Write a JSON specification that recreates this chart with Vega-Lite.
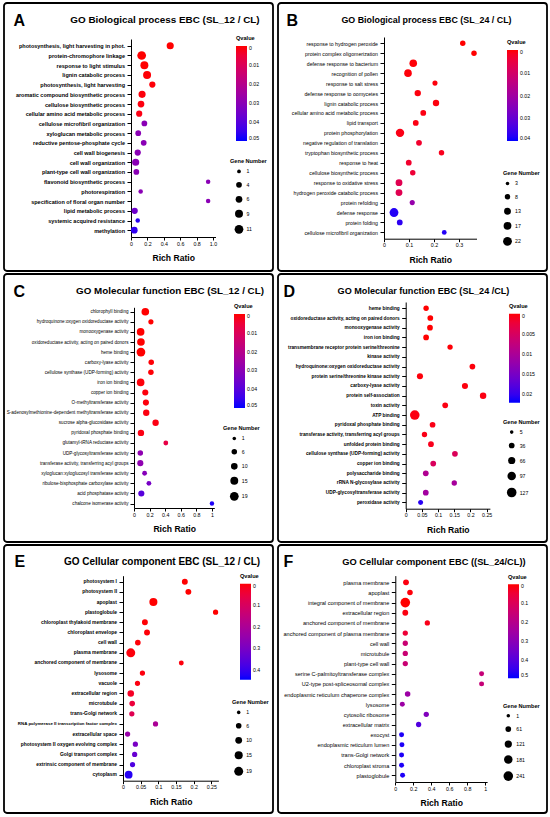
{
"$schema": "https://vega.github.io/schema/vega-lite/v6.json",
"padding": {"left": 3, "top": 2, "right": 2, "bottom": 2},
"background": "white",
"columns": 2,
"bounds": "flush",
"spacing": {"row": 3, "column": 5},
"resolve": {"scale": {"x": "independent", "y": "independent", "size": "independent", "color": "independent"}},
"concat": [
{
 "width": 269, "height": 268,
 "title": {"text": "GO Biological process EBC (SL_12 / CL)", "dx": 26.5, "fontSize": 9.9},
 "data": {"values": [
  {"term":"photosynthesis, light harvesting in phot.","ratio":0.478,"genes":7,"q":0.0},
  {"term":"protein-chromophore linkage","ratio":0.13,"genes":11,"q":0.0},
  {"term":"response to light stimulus","ratio":0.163,"genes":9,"q":0.0},
  {"term":"lignin catabolic process","ratio":0.196,"genes":9,"q":0.0002},
  {"term":"photosynthesis, light harvesting","ratio":0.26,"genes":5,"q":0.0003},
  {"term":"aromatic compound biosynthetic process","ratio":0.135,"genes":7,"q":0.0005},
  {"term":"cellulose biosynthetic process","ratio":0.122,"genes":6,"q":0.0007},
  {"term":"cellular amino acid metabolic process","ratio":0.10,"genes":5,"q":0.001},
  {"term":"cellulose microfibril organization","ratio":0.163,"genes":4,"q":0.03},
  {"term":"xyloglucan metabolic process","ratio":0.088,"genes":4,"q":0.03},
  {"term":"reductive pentose-phosphate cycle","ratio":0.155,"genes":4,"q":0.03},
  {"term":"cell wall biogenesis","ratio":0.082,"genes":5,"q":0.03},
  {"term":"cell wall organization","ratio":0.057,"genes":7,"q":0.03},
  {"term":"plant-type cell wall organization","ratio":0.065,"genes":4,"q":0.03},
  {"term":"flavonoid biosynthetic process","ratio":0.94,"genes":2,"q":0.03},
  {"term":"photorespiration","ratio":0.118,"genes":2,"q":0.03},
  {"term":"specification of floral organ number","ratio":0.94,"genes":2,"q":0.03},
  {"term":"lipid metabolic process","ratio":0.045,"genes":5,"q":0.036},
  {"term":"systemic acquired resistance","ratio":0.082,"genes":2,"q":0.047},
  {"term":"methylation","ratio":0.04,"genes":6,"q":0.046}
 ]},
 "encoding": {
  "y": {"field": "term", "type": "nominal", "sort": null,
   "scale": {"type": "point", "range": [36, 234], "padding": 0.7},
   "axis": {"offset": -127, "title": "A", "titleX": -118, "labelFontSize": 5.5, "labelFontWeight": "bold"}},
  "x": {"field": "ratio", "type": "quantitative",
   "scale": {"domain": [0, 1.03], "range": [127, 211.5], "nice": false, "zero": false},
   "axis": {"offset": -34, "values": [0, 0.2, 0.4, 0.6, 0.8, 1], "labelExpr": "datum.value == 0 ? '0' : format(datum.value, '.1f')", "title": "Rich Ratio"}}
 },
 "layer": [
  {"mark": {"type": "circle", "opacity": 0},
   "encoding": {"color": {"field": "q", "type": "quantitative",
    "scale": {"domain": [0, 0.05], "range": ["#0000ff", "#ff0000"], "interpolate": {"type": "rgb", "gamma": 1.5}, "nice": false, "zero": false},
    "legend": {"title": "Qvalue", "orient": "none", "legendX": 232, "legendY": 33.4, "gradientLength": 95, "values": [0.05, 0.04, 0.03, 0.02, 0.01, 0], "labelExpr": "format(round((0.05 - datum.value)*10000)/10000, '~g')"}}}},
  {"mark": {"type": "circle", "opacity": 1},
   "encoding": {
    "color": {"field": "q", "type": "quantitative", "legend": null,
     "scale": {"domain": [0, 0.05], "range": ["#ff0000", "#0000ff"], "interpolate": {"type": "rgb", "gamma": 1.5}, "nice": false, "zero": false}},
    "size": {"field": "genes", "type": "quantitative",
     "scale": {"domain": [1, 11], "range": [14, 76], "zero": false},
     "legend": {"title": "Gene Number", "orient": "none", "legendX": 226, "legendY": 156.2, "values": [1, 4, 6, 9, 11], "symbolOffset": 4.5, "encode": {"symbols": {"update": {"fill": {"value": "#000"}, "opacity": {"value": 1}, "strokeWidth": {"value": 0}}}}}}}}
 ],
 "resolve": {"scale": {"color": "independent"}, "legend": {"color": "independent"}}
},
{
 "width": 269, "height": 268,
 "title": {"text": "GO Biological process EBC (SL_24 / CL)", "dx": 14, "fontSize": 8.9},
 "data": {"values": [
  {"term":"response to hydrogen peroxide","ratio":0.315,"genes":8,"q":0.0},
  {"term":"protein complex oligomerization","ratio":0.36,"genes":8,"q":0.0},
  {"term":"defense response to bacterium","ratio":0.117,"genes":16,"q":0.0002},
  {"term":"recognition of pollen","ratio":0.096,"genes":16,"q":0.0003},
  {"term":"response to salt stress","ratio":0.204,"genes":7,"q":0.0004},
  {"term":"defense response to oomycetes","ratio":0.135,"genes":11,"q":0.0005},
  {"term":"lignin catabolic process","ratio":0.208,"genes":11,"q":0.0005},
  {"term":"cellular amino acid metabolic process","ratio":0.157,"genes":9,"q":0.0008},
  {"term":"lipid transport","ratio":0.127,"genes":9,"q":0.0008},
  {"term":"protein phosphorylation","ratio":0.064,"genes":20,"q":0.001},
  {"term":"negative regulation of translation","ratio":0.14,"genes":9,"q":0.003},
  {"term":"tryptophan biosynthetic process","ratio":0.23,"genes":8,"q":0.0015},
  {"term":"response to heat","ratio":0.099,"genes":9,"q":0.003},
  {"term":"cellulose biosynthetic process","ratio":0.115,"genes":8,"q":0.004},
  {"term":"response to oxidative stress","ratio":0.06,"genes":13,"q":0.007},
  {"term":"hydrogen peroxide catabolic process","ratio":0.06,"genes":13,"q":0.007},
  {"term":"protein refolding","ratio":0.113,"genes":7,"q":0.022},
  {"term":"defense response","ratio":0.04,"genes":22,"q":0.038},
  {"term":"protein folding","ratio":0.063,"genes":9,"q":0.037},
  {"term":"cellulose microfibril organization","ratio":0.241,"genes":6,"q":0.038}
 ]},
 "encoding": {
  "y": {"field": "term", "type": "nominal", "sort": null,
   "scale": {"type": "point", "range": [34, 235.7], "padding": 0.63},
   "axis": {"offset": -106, "title": "B", "titleX": -98, "labelFontSize": 5.2}},
  "x": {"field": "ratio", "type": "quantitative",
   "scale": {"domain": [0, 0.37], "range": [106, 198.5], "nice": false, "zero": false},
   "axis": {"offset": -32.3, "values": [0, 0.1, 0.2, 0.3], "format": "~g", "title": "Rich Ratio"}}
 },
 "layer": [
  {"mark": {"type": "circle", "opacity": 0},
   "encoding": {"color": {"field": "q", "type": "quantitative",
    "scale": {"domain": [0, 0.04], "range": ["#0000ff", "#ff0000"], "interpolate": {"type": "rgb", "gamma": 1.5}, "nice": false, "zero": false},
    "legend": {"title": "Qvalue", "orient": "none", "legendX": 229, "legendY": 37.4, "gradientLength": 91, "values": [0.04, 0.03, 0.02, 0.01, 0], "labelExpr": "format(round((0.04 - datum.value)*10000)/10000, '~g')"}}}},
  {"mark": {"type": "circle", "opacity": 1},
   "encoding": {
    "color": {"field": "q", "type": "quantitative", "legend": null,
     "scale": {"domain": [0, 0.04], "range": ["#ff0000", "#0000ff"], "interpolate": {"type": "rgb", "gamma": 1.5}, "nice": false, "zero": false}},
    "size": {"field": "genes", "type": "quantitative",
     "scale": {"domain": [3, 22], "range": [12.6, 78], "zero": false},
     "legend": {"title": "Gene Number", "orient": "none", "legendX": 225, "legendY": 168.2, "values": [3, 8, 13, 17, 22], "symbolOffset": 0, "encode": {"symbols": {"update": {"fill": {"value": "#000"}, "opacity": {"value": 1}, "strokeWidth": {"value": 0}}}}}}}}
 ],
 "resolve": {"scale": {"color": "independent"}, "legend": {"color": "independent"}}
},
{
 "width": 269, "height": 268,
 "title": {"text": "GO Molecular function EBC (SL_12 / CL)", "dx": 31.5, "fontSize": 9.8},
 "data": {"values": [
  {"term":"chlorophyll binding","ratio":0.145,"genes":14,"q":0.0},
  {"term":"hydroquinone:oxygen oxidoreductase activity","ratio":0.217,"genes":5,"q":0.0},
  {"term":"monooxygenase activity","ratio":0.085,"genes":14,"q":0.0},
  {"term":"oxidoreductase activity, acting on paired donors","ratio":0.089,"genes":14,"q":0.0},
  {"term":"heme binding","ratio":0.089,"genes":19,"q":0.0},
  {"term":"carboxy-lyase activity","ratio":0.221,"genes":6,"q":0.0002},
  {"term":"cellulose synthase (UDP-forming) activity","ratio":0.217,"genes":6,"q":0.0002},
  {"term":"iron ion binding","ratio":0.085,"genes":14,"q":0.0004},
  {"term":"copper ion binding","ratio":0.145,"genes":8,"q":0.0005},
  {"term":"O-methyltransferase activity","ratio":0.153,"genes":8,"q":0.0006},
  {"term":"S-adenosylmethionine-dependent methyltransferase activity","ratio":0.157,"genes":9,"q":0.0008},
  {"term":"sucrose alpha-glucosidase activity","ratio":0.277,"genes":9,"q":0.001},
  {"term":"pyridoxal phosphate binding","ratio":0.089,"genes":9,"q":0.001},
  {"term":"glutamyl-tRNA reductase activity","ratio":0.408,"genes":4,"q":0.007},
  {"term":"UDP-glycosyltransferase activity","ratio":0.081,"genes":6,"q":0.029},
  {"term":"transferase activity, transferring acyl groups","ratio":0.081,"genes":8,"q":0.029},
  {"term":"xyloglucan:xyloglucosyl transferase activity","ratio":0.136,"genes":4,"q":0.031},
  {"term":"ribulose-bisphosphate carboxylase activity","ratio":0.191,"genes":4,"q":0.034},
  {"term":"acid phosphatase activity","ratio":0.094,"genes":8,"q":0.04},
  {"term":"chalcone isomerase activity","ratio":1.0,"genes":3,"q":0.048}
 ]},
 "encoding": {
  "y": {"field": "term", "type": "nominal", "sort": null,
   "scale": {"type": "point", "range": [33.3, 234], "padding": 0.44},
   "axis": {"offset": -130, "title": "C", "titleX": -121, "labelFontSize": 4.6, "labelPadding": 2}},
  "x": {"field": "ratio", "type": "quantitative",
   "scale": {"domain": [0, 1.03], "range": [130, 210.3], "nice": false, "zero": false},
   "axis": {"offset": -34, "values": [0, 0.2, 0.4, 0.6, 0.8, 1], "format": "~g", "title": "Rich Ratio"}}
 },
 "layer": [
  {"mark": {"type": "circle", "opacity": 0},
   "encoding": {"color": {"field": "q", "type": "quantitative",
    "scale": {"domain": [0, 0.05], "range": ["#0000ff", "#ff0000"], "interpolate": {"type": "rgb", "gamma": 1.5}, "nice": false, "zero": false},
    "legend": {"title": "Qvalue", "orient": "none", "legendX": 230, "legendY": 30.4, "gradientLength": 94, "values": [0.05, 0.04, 0.03, 0.02, 0.01, 0], "labelExpr": "format(round((0.05 - datum.value)*10000)/10000, '~g')"}}}},
  {"mark": {"type": "circle", "opacity": 1},
   "encoding": {
    "color": {"field": "q", "type": "quantitative", "legend": null,
     "scale": {"domain": [0, 0.05], "range": ["#ff0000", "#0000ff"], "interpolate": {"type": "rgb", "gamma": 1.5}, "nice": false, "zero": false}},
    "size": {"field": "genes", "type": "quantitative",
     "scale": {"domain": [1, 19], "range": [12.6, 76], "zero": false},
     "legend": {"title": "Gene Number", "orient": "none", "legendX": 219, "legendY": 152.2, "values": [1, 6, 10, 15, 19], "symbolOffset": 6.8, "encode": {"symbols": {"update": {"fill": {"value": "#000"}, "opacity": {"value": 1}, "strokeWidth": {"value": 0}}}}}}}}
 ],
 "resolve": {"scale": {"color": "independent"}, "legend": {"color": "independent"}}
},
{
 "width": 269, "height": 268,
 "title": {"text": "GO Molecular function EBC (SL_24 /CL)", "dx": 11, "fontSize": 9.1},
 "data": {"values": [
  {"term":"heme binding","ratio":0.063,"genes":30,"q":0.0},
  {"term":"oxidoreductase activity, acting on paired donors","ratio":0.076,"genes":36,"q":0.0},
  {"term":"monooxygenase activity","ratio":0.075,"genes":36,"q":0.0},
  {"term":"iron ion binding","ratio":0.063,"genes":36,"q":0.0},
  {"term":"transmembrane receptor protein serine/threonine kinase activity","ratio":0.137,"genes":30,"q":0.0001},
  {"term":"hydroquinone:oxygen oxidoreductase activity","ratio":0.206,"genes":36,"q":0.0002},
  {"term":"protein serine/threonine kinase activity","ratio":0.044,"genes":43,"q":0.0002},
  {"term":"carboxy-lyase activity","ratio":0.183,"genes":43,"q":0.0003},
  {"term":"protein self-association","ratio":0.239,"genes":50,"q":0.0004},
  {"term":"toxin activity","ratio":0.122,"genes":36,"q":0.0004},
  {"term":"ATP binding","ratio":0.028,"genes":127,"q":0.0004},
  {"term":"pyridoxal phosphate binding","ratio":0.083,"genes":36,"q":0.0006},
  {"term":"transferase activity, transferring acyl groups","ratio":0.058,"genes":30,"q":0.0006},
  {"term":"unfolded protein binding","ratio":0.078,"genes":36,"q":0.0008},
  {"term":"cellulose synthase (UDP-forming) activity","ratio":0.152,"genes":36,"q":0.0045},
  {"term":"copper ion binding","ratio":0.085,"genes":36,"q":0.0048},
  {"term":"polysaccharide binding","ratio":0.062,"genes":36,"q":0.0095},
  {"term":"rRNA N-glycosylase activity","ratio":0.15,"genes":30,"q":0.0105},
  {"term":"UDP-glycosyltransferase activity","ratio":0.062,"genes":36,"q":0.011},
  {"term":"peroxidase activity","ratio":0.046,"genes":24,"q":0.0208}
 ]},
 "encoding": {
  "y": {"field": "term", "type": "nominal", "sort": null,
   "scale": {"type": "point", "padding": 0.65, "range": [28, 234.7],
    "domain": ["heme binding","oxidoreductase activity, acting on paired donors","monooxygenase activity","iron ion binding","transmembrane receptor protein serine/threonine kinase activity","kinase activity","hydroquinone:oxygen oxidoreductase activity","protein serine/threonine kinase activity","carboxy-lyase activity","protein self-association","toxin activity","ATP binding","pyridoxal phosphate binding","transferase activity, transferring acyl groups","unfolded protein binding","cellulose synthase (UDP-forming) activity","copper ion binding","polysaccharide binding","rRNA N-glycosylase activity","UDP-glycosyltransferase activity","peroxidase activity"]},
   "axis": {"offset": -127.7, "title": "D", "titleX": -122.7, "labelFontSize": 4.75, "labelFontWeight": "bold",
    "labelExpr": "datum.value == 'transmembrane receptor protein serine/threonine kinase activity' ? 'transmembrane receptor protein serine/threonine' : datum.value"}},
  "x": {"field": "ratio", "type": "quantitative",
   "scale": {"domain": [0, 0.26], "range": [127.7, 211.9], "nice": false, "zero": false},
   "axis": {"offset": -33.3, "values": [0, 0.05, 0.1, 0.15, 0.2, 0.25], "format": "~g", "title": "Rich Ratio"}}
 },
 "layer": [
  {"mark": {"type": "circle", "opacity": 0},
   "encoding": {"color": {"field": "q", "type": "quantitative",
    "scale": {"domain": [0, 0.0222], "range": ["#0000ff", "#ff0000"], "interpolate": {"type": "rgb", "gamma": 1.5}, "nice": false, "zero": false},
    "legend": {"title": "Qvalue", "orient": "none", "legendX": 231, "legendY": 30.1, "gradientLength": 89, "values": [0.0222, 0.0172, 0.0122, 0.0072, 0.0022], "labelExpr": "format(round((0.0222 - datum.value)*10000)/10000, '~g')"}}}},
  {"mark": {"type": "circle", "opacity": 1},
   "encoding": {
    "color": {"field": "q", "type": "quantitative", "legend": null,
     "scale": {"domain": [0, 0.0222], "range": ["#ff0000", "#0000ff"], "interpolate": {"type": "rgb", "gamma": 1.5}, "nice": false, "zero": false}},
    "size": {"field": "genes", "type": "quantitative",
     "scale": {"domain": [5, 127], "range": [12.6, 92], "zero": false},
     "legend": {"title": "Gene Number", "orient": "none", "legendX": 225, "legendY": 145.9, "values": [5, 36, 66, 97, 127], "symbolOffset": 3.7, "encode": {"symbols": {"update": {"fill": {"value": "#000"}, "opacity": {"value": 1}, "strokeWidth": {"value": 0}}}}}}}}
 ],
 "resolve": {"scale": {"color": "independent"}, "legend": {"color": "independent"}}
},
{
 "width": 269, "height": 268,
 "title": {"text": "GO Cellular component EBC (SL_12 / CL)", "dx": 23.5, "fontSize": 10},
 "data": {"values": [
  {"term":"photosystem I","ratio":0.175,"genes":7,"q":0.0},
  {"term":"photosystem II","ratio":0.185,"genes":7,"q":0.0},
  {"term":"apoplast","ratio":0.086,"genes":15,"q":0.0},
  {"term":"plastoglobule","ratio":0.262,"genes":5,"q":0.0},
  {"term":"chloroplast thylakoid membrane","ratio":0.062,"genes":7,"q":0.001},
  {"term":"chloroplast envelope","ratio":0.068,"genes":7,"q":0.002},
  {"term":"cell wall","ratio":0.042,"genes":6,"q":0.003},
  {"term":"plasma membrane","ratio":0.022,"genes":19,"q":0.004},
  {"term":"anchored component of membrane","ratio":0.165,"genes":4,"q":0.005},
  {"term":"lysosome","ratio":0.055,"genes":5,"q":0.006},
  {"term":"vacuole","ratio":0.041,"genes":5,"q":0.008},
  {"term":"extracellular region","ratio":0.022,"genes":9,"q":0.025},
  {"term":"microtubule","ratio":0.026,"genes":6,"q":0.05},
  {"term":"trans-Golgi network","ratio":0.025,"genes":5,"q":0.08},
  {"term":"RNA polymerase II transcription factor complex","ratio":0.092,"genes":5,"q":0.2},
  {"term":"extracellular space","ratio":0.013,"genes":5,"q":0.24},
  {"term":"photosystem II oxygen evolving complex","ratio":0.035,"genes":5,"q":0.3},
  {"term":"Golgi transport complex","ratio":0.033,"genes":5,"q":0.33},
  {"term":"extrinsic component of membrane","ratio":0.027,"genes":5,"q":0.37},
  {"term":"cytoplasm","ratio":0.016,"genes":14,"q":0.42}
 ]},
 "encoding": {
  "y": {"field": "term", "type": "nominal", "sort": null,
   "scale": {"type": "point", "range": [30.7, 235.7], "padding": 0.59},
   "axis": {"offset": -119, "title": "E", "titleX": -109, "titleY": 21, "labelFontWeight": "bold",
    "labelFontSize": {"condition": {"test": "datum.value == 'RNA polymerase II transcription factor complex'", "value": 4.4}, "value": 4.95}}},
  "x": {"field": "ratio", "type": "quantitative",
   "scale": {"domain": [0, 0.27], "range": [119, 214.4], "nice": false, "zero": false},
   "axis": {"offset": -32.3, "values": [0, 0.05, 0.1, 0.15, 0.2, 0.25], "format": "~g", "title": "Rich Ratio"}}
 },
 "layer": [
  {"mark": {"type": "circle", "opacity": 0},
   "encoding": {"color": {"field": "q", "type": "quantitative",
    "scale": {"domain": [0, 0.445], "range": ["#0000ff", "#ff0000"], "interpolate": {"type": "rgb", "gamma": 1.5}, "nice": false, "zero": false},
    "legend": {"title": "Qvalue", "orient": "none", "legendX": 236, "legendY": 29.1, "gradientLength": 96, "values": [0.445, 0.345, 0.245, 0.145, 0.045], "labelExpr": "format(round((0.445 - datum.value)*10000)/10000, '~g')"}}}},
  {"mark": {"type": "circle", "opacity": 1},
   "encoding": {
    "color": {"field": "q", "type": "quantitative", "legend": null,
     "scale": {"domain": [0, 0.445], "range": ["#ff0000", "#0000ff"], "interpolate": {"type": "rgb", "gamma": 1.5}, "nice": false, "zero": false}},
    "size": {"field": "genes", "type": "quantitative",
     "scale": {"domain": [1, 19], "range": [12.6, 80], "zero": false},
     "legend": {"title": "Gene Number", "orient": "none", "legendX": 228, "legendY": 155.2, "values": [1, 6, 10, 15, 19], "symbolOffset": 2.2, "encode": {"symbols": {"update": {"fill": {"value": "#000"}, "opacity": {"value": 1}, "strokeWidth": {"value": 0}}}}}}}}
 ],
 "resolve": {"scale": {"color": "independent"}, "legend": {"color": "independent"}}
},
{
 "width": 269, "height": 268,
 "title": {"text": "GO Cellular component EBC ((SL_24/CL))", "dx": 21.5, "fontSize": 9.3},
 "data": {"values": [
  {"term":"plasma membrane","ratio":0.119,"genes":66,"q":0.008},
  {"term":"apoplast","ratio":0.163,"genes":56,"q":0.004},
  {"term":"integral component of membrane","ratio":0.111,"genes":241,"q":0.0},
  {"term":"extracellular region","ratio":0.111,"genes":66,"q":0.008},
  {"term":"anchored component of membrane","ratio":0.356,"genes":47,"q":0.015},
  {"term":"anchored component of plasma membrane","ratio":0.111,"genes":47,"q":0.05},
  {"term":"cell wall","ratio":0.111,"genes":47,"q":0.15},
  {"term":"microtubule","ratio":0.111,"genes":47,"q":0.15},
  {"term":"plant-type cell wall","ratio":0.111,"genes":47,"q":0.15},
  {"term":"serine C-palmitoyltransferase complex","ratio":0.959,"genes":38,"q":0.16},
  {"term":"U2-type post-spliceosomal complex","ratio":0.959,"genes":38,"q":0.16},
  {"term":"endoplasmic reticulum chaperone complex","ratio":0.137,"genes":56,"q":0.26},
  {"term":"lysosome","ratio":0.078,"genes":38,"q":0.26},
  {"term":"cytosolic ribosome","ratio":0.344,"genes":47,"q":0.32},
  {"term":"extracellular matrix","ratio":0.259,"genes":47,"q":0.41},
  {"term":"exocyst","ratio":0.07,"genes":38,"q":0.48},
  {"term":"endoplasmic reticulum lumen","ratio":0.074,"genes":38,"q":0.48},
  {"term":"trans-Golgi network","ratio":0.07,"genes":38,"q":0.48},
  {"term":"chloroplast stroma","ratio":0.07,"genes":38,"q":0.48},
  {"term":"plastoglobule","ratio":0.081,"genes":38,"q":0.48}
 ]},
 "encoding": {
  "y": {"field": "term", "type": "nominal", "sort": null,
   "scale": {"type": "point", "range": [30.6, 237], "padding": 0.66},
   "axis": {"offset": -117.3, "title": "F", "titleX": -112.3, "titleY": 21, "labelFontSize": 5.55}},
  "x": {"field": "ratio", "type": "quantitative",
   "scale": {"domain": [0, 1.02], "range": [117.3, 209.1], "nice": false, "zero": false},
   "axis": {"offset": -31, "values": [0, 0.2, 0.4, 0.6, 0.8, 1], "format": "~g", "title": "Rich Ratio"}}
 },
 "layer": [
  {"mark": {"type": "circle", "opacity": 0},
   "encoding": {"color": {"field": "q", "type": "quantitative",
    "scale": {"domain": [0, 0.5], "range": ["#0000ff", "#ff0000"], "interpolate": {"type": "rgb", "gamma": 1.5}, "nice": false, "zero": false},
    "legend": {"title": "Qvalue", "orient": "none", "legendX": 230, "legendY": 29.7, "gradientLength": 94, "values": [0.5, 0.4, 0.3, 0.2, 0.1, 0], "labelExpr": "format(round((0.5 - datum.value)*10000)/10000, '~g')"}}}},
  {"mark": {"type": "circle", "opacity": 1},
   "encoding": {
    "color": {"field": "q", "type": "quantitative", "legend": null,
     "scale": {"domain": [0, 0.5], "range": ["#ff0000", "#0000ff"], "interpolate": {"type": "rgb", "gamma": 1.5}, "nice": false, "zero": false}},
    "size": {"field": "genes", "type": "quantitative",
     "scale": {"domain": [1, 241], "range": [12.6, 92], "zero": false},
     "legend": {"title": "Gene Number", "orient": "none", "legendX": 225, "legendY": 158.5, "values": [1, 61, 121, 181, 241], "symbolOffset": 0.3, "encode": {"symbols": {"update": {"fill": {"value": "#000"}, "opacity": {"value": 1}, "strokeWidth": {"value": 0}}}}}}}}
 ],
 "resolve": {"scale": {"color": "independent"}, "legend": {"color": "independent"}}
}
],
"config": {
 "font": "Liberation Sans",
 "view": {"stroke": "#000000", "strokeWidth": 1.8, "cornerRadius": 3},
 "title": {"fontWeight": "bold", "color": "#000000", "frame": "group", "anchor": "middle", "offset": -22, "baseline": "alphabetic"},
 "axis": {"grid": false, "domainColor": "#000000", "tickColor": "#000000", "labelColor": "#000000", "titleColor": "#000000", "domainWidth": 1, "tickWidth": 1, "tickSize": 4, "labelPadding": 2.5},
 "axisX": {"labelFontSize": 5.3, "tickSize": 3, "labelPadding": 1, "labelFlush": false, "labelOverlap": false, "titleFontSize": 8.6, "titleFontWeight": "bold", "titlePadding": 7.5},
 "axisY": {"titleFontSize": 16, "titleFontWeight": "bold", "titleAngle": 0, "titleAlign": "left", "titleBaseline": "alphabetic", "titleY": 22, "labelLimit": 0},
 "legend": {"padding": 0, "titleFontSize": 5.6, "titleFontWeight": "bold", "titleColor": "#000000", "labelColor": "#000000", "labelFontSize": 5.2, "titlePadding": 4, "gradientThickness": 11, "labelOverlap": false, "rowPadding": 7, "labelOffset": 3, "symbolType": "circle", "symbolFillColor": "#000000", "symbolStrokeWidth": 0, "symbolOpacity": 1}
}
}
